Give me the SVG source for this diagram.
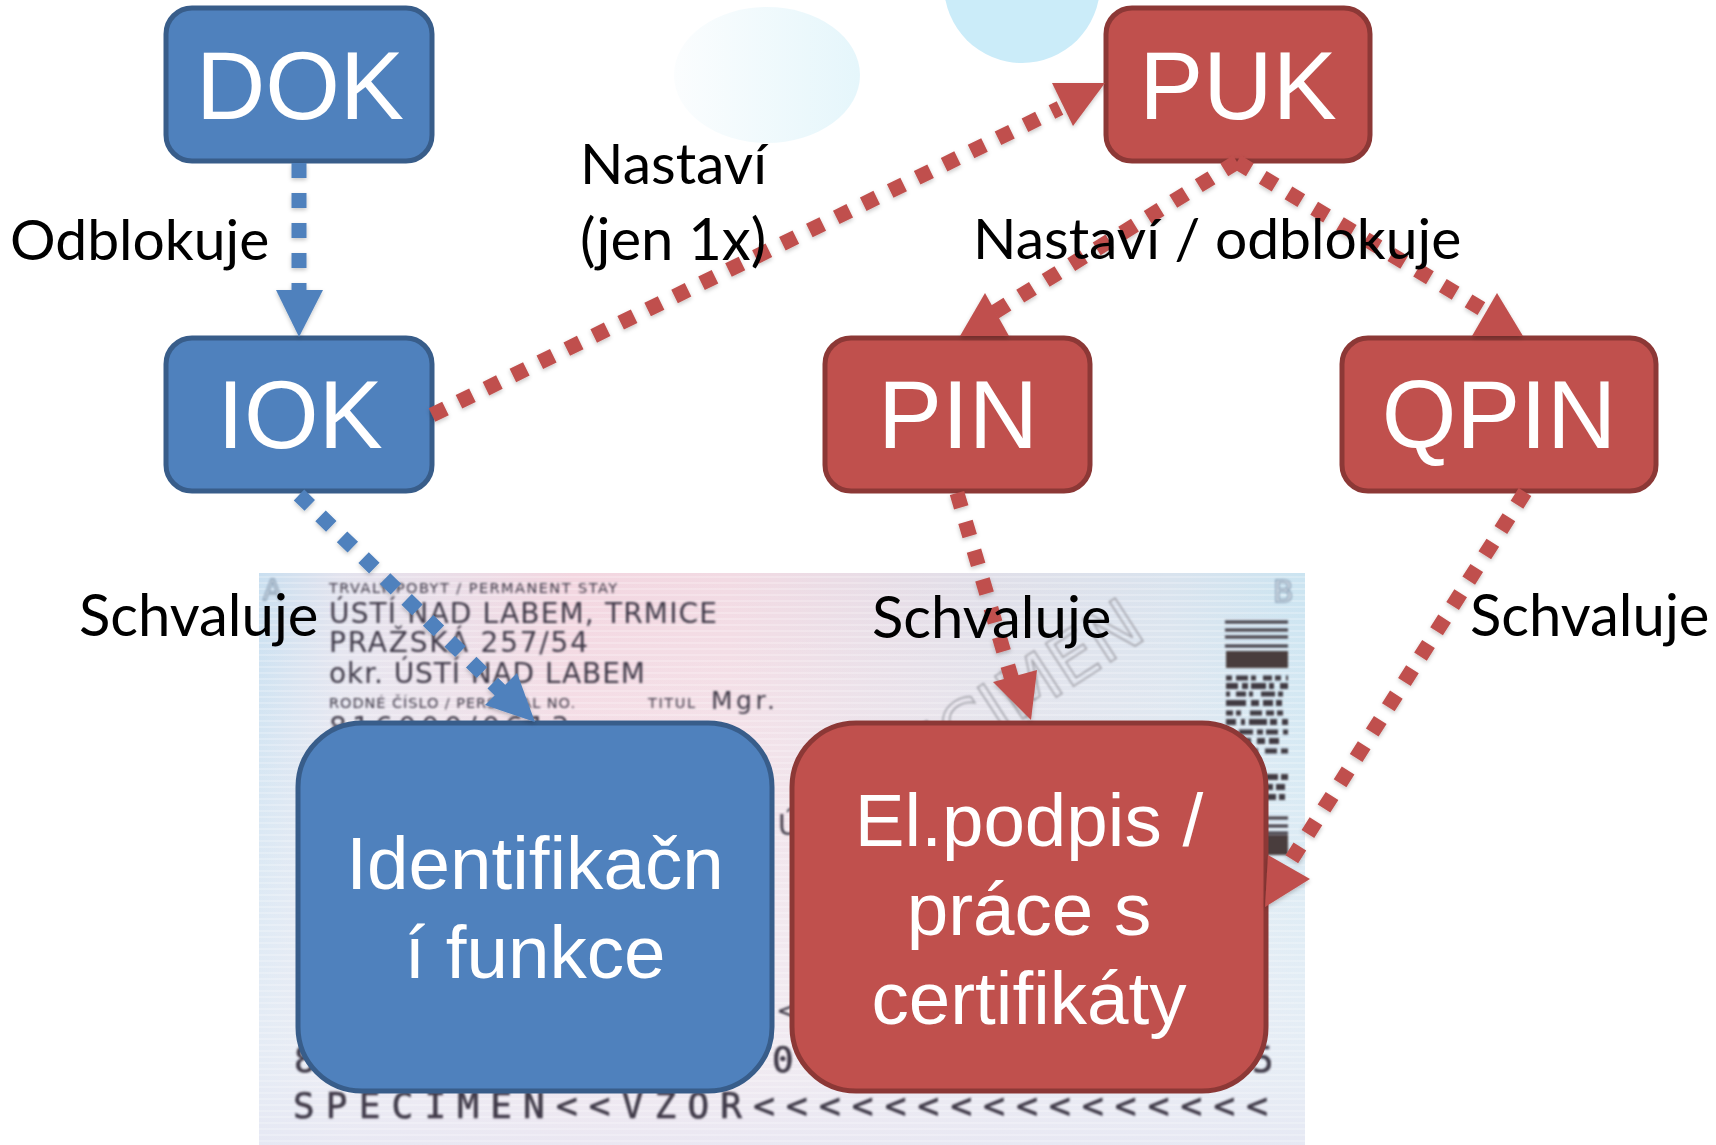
<svg xmlns="http://www.w3.org/2000/svg" width="1716" height="1145" viewBox="0 0 1716 1145">
<style>
.n{font-family:"Liberation Sans",Arial,sans-serif;fill:#fff;text-anchor:middle}
.big{font-size:96px}.mid{font-size:74.6px}
.b{fill:#4f81bd;stroke:#385d8a;stroke-width:5}
.r{fill:#c0504d;stroke:#8c3836;stroke-width:5}
.l{font-family:Lato,"Open Sans",sans-serif;font-size:58px;fill:#000}
.ls{font-size:57px}
.cb,.cr{fill:none;stroke-width:15;stroke-dasharray:15 15}
.cb{stroke:#4f81bd}.cr{stroke:#c0504d}
.hb{fill:#4f81bd}.hr{fill:#c0504d}
.t{font-family:"DejaVu Sans",sans-serif;fill:#3f3a48}
.m{font-family:"DejaVu Sans Mono",monospace;fill:#3f3a48;font-size:36px;stroke:#3f3a48;stroke-width:.6}
.bar{stroke:#3f3a42;fill:none}
</style>
<defs>
<linearGradient id="g1" x1="0" y1="0" x2="1" y2="0">
<stop offset="0" stop-color="#c9dff0"/><stop offset=".08" stop-color="#e3e3ee"/><stop offset=".3" stop-color="#f3d6e0"/><stop offset=".45" stop-color="#f2dae3"/><stop offset=".7" stop-color="#e0dfe9"/><stop offset=".87" stop-color="#d9e3ee"/><stop offset="1" stop-color="#cbe4f1"/>
</linearGradient>
<linearGradient id="g2" x1="0" y1="0" x2="0" y2="1">
<stop offset="0" stop-color="#fff" stop-opacity="0"/><stop offset=".85" stop-color="#f1f1f7" stop-opacity=".7"/><stop offset="1" stop-color="#e9e9f4" stop-opacity=".9"/>
</linearGradient>
<linearGradient id="g3" x1="0" y1="0" x2="1" y2="0">
<stop offset="0" stop-color="#fbfdfe"/><stop offset="1" stop-color="#e5f6fb"/>
</linearGradient>
<pattern id="st" width="6" height="6" patternUnits="userSpaceOnUse"><rect width="6" height="2" fill="#fff" fill-opacity=".22"/></pattern>
<filter id="bl" x="-2%" y="-2%" width="104%" height="104%"><feGaussianBlur stdDeviation=".9"/></filter>
<filter id="sh" x="-10%" y="-10%" width="120%" height="120%"><feDropShadow dx="0" dy="2" stdDeviation="2" flood-color="#000" flood-opacity=".22"/></filter>
<clipPath id="cc"><rect x="259" y="573" width="1046" height="572"/></clipPath>
</defs>
<rect width="1716" height="1145" fill="#fff"/>
<ellipse cx="767" cy="75" rx="93" ry="68" fill="url(#g3)"/>
<circle cx="1022" cy="-15" r="78" fill="#cbecf9"/>
<g id="card" clip-path="url(#cc)">
<rect x="259" y="573" width="1046" height="572" fill="url(#g1)"/>
<rect x="259" y="573" width="1046" height="572" fill="url(#g2)"/>
<rect x="259" y="573" width="1046" height="572" fill="url(#st)"/>
<g filter="url(#bl)">
<text x="849" y="832" transform="rotate(-33 849 832)" font-family="DejaVu Sans,sans-serif" font-size="70" fill="none" stroke="#a4a4ac" stroke-width="1.6">SPECIMEN</text>
<text x="263" y="600" font-family="DejaVu Sans,sans-serif" font-size="28" fill="#dfe8f0" stroke="#8ea4ba" stroke-width="1.5">A</text>
<text x="1273" y="602" font-family="DejaVu Sans,sans-serif" font-size="30" fill="#dfe8f0" stroke="#8ea4ba" stroke-width="1.5">B</text>
<text class="t" x="329" y="593" font-size="14.5" textLength="288">TRVALÝ POBYT / PERMANENT STAY</text>
<text class="t" x="329" y="623" font-size="28" textLength="388">ÚSTÍ NAD LABEM, TRMICE</text>
<text class="t" x="329" y="652" font-size="28" textLength="259">PRAŽSKÁ 257/54</text>
<text class="t" x="329" y="683" font-size="28" textLength="316">okr. ÚSTÍ NAD LABEM</text>
<text class="t" x="329" y="708" font-size="14.5" textLength="246">RODNÉ ČÍSLO / PERSONAL NO.</text>
<text class="t" x="648" y="708" font-size="14.5" textLength="47">TITUL</text>
<text class="t" x="711" y="709" font-size="25" textLength="64">Mgr.</text>
<text class="t" x="329" y="737" font-size="28" textLength="240">816000/0613</text>
<text class="t" x="778" y="835" font-size="28">Ú</text>
<text class="t" x="776" y="1020" font-size="28">&lt;</text>
<text class="m" x="294" y="1072">8</text>
<text class="m" x="772" y="1072">0</text>
<text class="m" x="1252" y="1072">5</text>
<text class="m" x="293" y="1118" textLength="975">SPECIMEN&lt;&lt;VZOR&lt;&lt;&lt;&lt;&lt;&lt;&lt;&lt;&lt;&lt;&lt;&lt;&lt;&lt;&lt;&lt;</text>
<path class="bar" stroke-width="3" d="M1225 622H1288M1225 630H1288M1225 637H1288M1225 646H1288"/>
<rect x="1226" y="651" width="62" height="17" fill="#4a3c3e"/>
<path class="bar" stroke-width="5" stroke-dasharray="6 4 12 3 5 7 9 3 6 5 4 6" d="M1226 678H1288"/>
<path class="bar" stroke-width="6" stroke-dasharray="12 4 6 3 15 3 5 6 10" d="M1226 686H1288"/>
<path class="bar" stroke-width="5" stroke-dasharray="4 6 10 3 4 8 14 3 5 7" d="M1226 694H1288"/>
<path class="bar" stroke-width="6" stroke-dasharray="20 5 8 4 10 3 6 8" d="M1226 703H1288"/>
<path class="bar" stroke-width="5" stroke-dasharray="7 3 5 9 12 4 8 3 6" d="M1226 713H1288"/>
<path class="bar" stroke-width="6" stroke-dasharray="10 5 4 4 18 3 7 5" d="M1226 722H1288"/>
<path class="bar" stroke-width="5" stroke-dasharray="5 8 14 4 6 3 12 5" d="M1226 732H1288"/>
<path class="bar" stroke-width="6" stroke-dasharray="16 3 6 6 8 4 10" d="M1226 741H1288"/>
<path class="bar" stroke-width="5" stroke-dasharray="8 5 10 3 6 7 12 4" d="M1226 751H1288"/>
<path class="bar" stroke-width="6" stroke-dasharray="12 3 7 5 9 4 14" d="M1266 777H1288"/>
<path class="bar" stroke-width="6" stroke-dasharray="7 3 9 3" d="M1266 787H1288"/>
<path class="bar" stroke-width="6" stroke-dasharray="10 3 6 3" d="M1266 797H1288"/>
<path class="bar" stroke-width="3" d="M1266 818H1288M1266 826H1288M1266 833H1288"/>
<rect x="1266" y="835" width="22" height="20" fill="#4a3c3e"/>
</g>
</g>
<g id="node-identifikacni"><rect class="b" x="298" y="723" width="474" height="368" rx="64"/><text class="n mid" x="535" y="889">Identifikačn</text><text class="n mid" x="535" y="978">í funkce</text></g>
<g id="node-elpodpis"><rect class="r" x="792" y="723" width="474" height="368" rx="64"/><text class="n mid" x="1029" y="846">El.podpis /</text><text class="n mid" x="1029" y="935">práce s</text><text class="n mid" x="1029" y="1024">certifikáty</text></g>
<g id="node-dok"><rect class="b" x="166" y="8" width="266" height="153" rx="26"/><text class="n big" x="300" y="119">DOK</text></g>
<g id="node-puk"><rect class="r" x="1106" y="8" width="264" height="153" rx="26"/><text class="n big" x="1238" y="119">PUK</text></g>
<g id="node-iok"><rect class="b" x="166" y="338" width="266" height="153" rx="26"/><text class="n big" x="300" y="448">IOK</text></g>
<g id="node-pin"><rect class="r" x="825" y="338" width="265" height="153" rx="26"/><text class="n big" x="958" y="448">PIN</text></g>
<g id="node-qpin"><rect class="r" x="1342" y="338" width="314" height="153" rx="26"/><text class="n big" x="1499" y="448">QPIN</text></g>
<g id="connectors" filter="url(#sh)">
<path class="cb" d="M299 163V292"/><polygon class="hb" points="276,290 323,290 299,337"/>
<path class="cr" d="M432 415L1060 108"/><polygon class="hr" points="1052,83 1105,83 1073,126"/>
<path class="cr" d="M1237 162L985 318"/><polygon class="hr" points="960,336 1009,336 985,293"/>
<path class="cr" d="M1237 162L1497 318"/><polygon class="hr" points="1472,336 1523,336 1497,293"/>
<path class="cb" d="M299 495L505 695"/><polygon class="hb" points="485,705 517,673 535,722"/>
<path class="cr" d="M957 493L1015 690"/><polygon class="hr" points="993,682 1037,670 1031,720"/>
<path class="cr" d="M1525 492L1285 870"/><polygon class="hr" points="1268,855 1310,879 1265,907"/>
</g>
<g id="labels">
<text class="l ls" x="10" y="260">Odblokuje</text>
<text class="l ls" x="580" y="184">Nastaví</text>
<text class="l" x="580" y="260">(jen 1x)</text>
<text class="l ls" x="973" y="259">Nastaví / odblokuje</text>
<text class="l" x="79" y="636">Schvaluje</text>
<text class="l" x="872" y="638">Schvaluje</text>
<text class="l" x="1470" y="636">Schvaluje</text>
</g>
</svg>
